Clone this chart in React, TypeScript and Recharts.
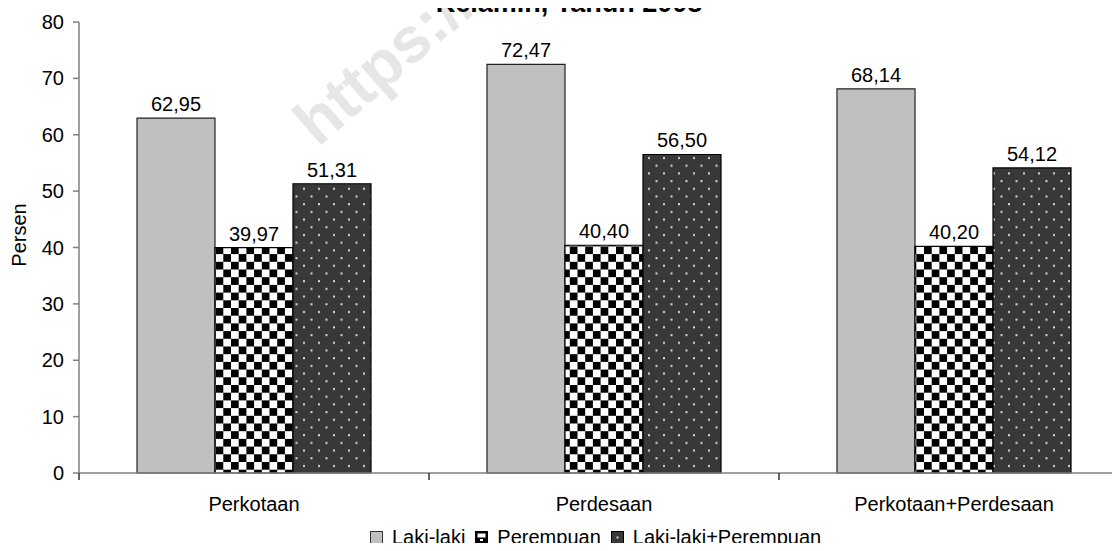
import { Bar, BarChart, LabelList, Legend, XAxis, YAxis } from "recharts";

const categories = ["Perkotaan", "Perdesaan", "Perkotaan+Perdesaan"];
const lakiLaki = [62.95, 72.47, 68.14];
const perempuan = [39.97, 40.4, 40.2];
const gabungan = [51.31, 56.5, 54.12];
const yTicks = [0, 10, 20, 30, 40, 50, 60, 70, 80];

const data = categories.map((name, i) => ({
  name,
  laki: lakiLaki[i],
  perempuan: perempuan[i],
  gabungan: gabungan[i],
}));

const FONT = "Arial, 'Liberation Sans', sans-serif";

const fmt = (v: unknown) => Number(v).toFixed(2).replace(".", ",");

function CategoryTick(props: any) {
  const { x, y, payload } = props;
  const half = payload?.offset ?? 175;
  return (
    <g>
      <line x1={x - half} x2={x - half} y1={y} y2={y + 7} stroke="#333" strokeWidth={1.5} />
      <text x={x} y={y + 38} textAnchor="middle" fontSize={20} fill="#000" fontFamily={FONT}>
        {payload.value}
      </text>
    </g>
  );
}

function LegendIcon({ kind }: { kind: string }) {
  if (kind === "laki") {
    return (
      <svg width={13} height={13}>
        <rect x={0.5} y={0.5} width={12} height={12} fill="#c0c0c0" stroke="#333" />
      </svg>
    );
  }
  if (kind === "perempuan") {
    return (
      <svg width={13} height={13}>
        <rect x={0.5} y={0.5} width={12} height={12} fill="#000" stroke="#000" />
        <rect x={2.5} y={2.5} width={8} height={4} fill="#fff" />
        <rect x={5} y={8} width={3} height={2} fill="#fff" />
      </svg>
    );
  }
  return (
    <svg width={13} height={13}>
      <rect x={0.5} y={0.5} width={12} height={12} fill="#383838" stroke="#000" />
      <rect x={5.5} y={5.5} width={2} height={2} fill="#ddd" />
    </svg>
  );
}

const legendItems = [
  { key: "laki", label: "Laki-laki" },
  { key: "perempuan", label: "Perempuan" },
  { key: "gabungan", label: "Laki-laki+Perempuan" },
];

function LegendContent() {
  return (
    <div
      style={{
        display: "flex",
        alignItems: "center",
        paddingLeft: 370,
        height: 22,
        lineHeight: "22px",
        fontSize: 20,
        fontFamily: FONT,
        color: "#000",
      }}
    >
      {legendItems.map((it) => (
        <div key={it.key} style={{ display: "flex", alignItems: "center", marginRight: 10 }}>
          <LegendIcon kind={it.key} />
          <span style={{ marginLeft: 9 }}>{it.label}</span>
        </div>
      ))}
    </div>
  );
}

export default function App() {
  return (
    <div
      style={{
        position: "relative",
        margin: -8,
        width: 1120,
        height: 551,
        overflow: "hidden",
        background: "#fff",
        fontFamily: FONT,
      }}
    >
      {/* watermark, sits behind the bars */}
      <svg
        width={1120}
        height={551}
        style={{ position: "absolute", left: 0, top: 0, zIndex: 0 }}
      >
        <text
          x={318}
          y={148}
          transform="rotate(-41 318 148)"
          fontSize={64}
          fontWeight="bold"
          fill="#e6e6e6"
          fontFamily={FONT}
        >
          https://www.bps.go.id
        </text>
        <text x={569} y={12} textAnchor="middle" fontSize={27} fontWeight="bold" fill="#000" fontFamily={FONT}>
          Kelamin, Tahun 2008
        </text>
      </svg>
      <div style={{ position: "relative", zIndex: 1 }}>
        <BarChart
          width={1140}
          height={551}
          data={data}
          margin={{ top: 22, right: 11, bottom: 0, left: 0 }}
          barSize={78}
          barGap={0}
        >
          <defs>
            <pattern id="checker" patternUnits="userSpaceOnUse" width={15.4} height={15.4}>
              <rect width={15.4} height={15.4} fill="#fff" />
              <rect x={0} y={0} width={7.7} height={7.7} fill="#000" />
              <rect x={7.7} y={7.7} width={7.7} height={7.7} fill="#000" />
            </pattern>
            <pattern id="dots" patternUnits="userSpaceOnUse" width={15} height={15.4}>
              <rect width={15} height={15.4} fill="#383838" />
              <rect x={3} y={3} width={2} height={2} fill="#d8d8d8" />
              <rect x={10.5} y={10.7} width={2} height={2} fill="#d8d8d8" />
            </pattern>
          </defs>
          <XAxis
            dataKey="name"
            height={56}
            axisLine={{ stroke: "#808080", strokeWidth: 1.5 }}
            tickLine={false}
            tickSize={0}
            tickMargin={0}
            tick={<CategoryTick />}
            interval={0}
          />
          <YAxis
            width={79}
            domain={[0, 80]}
            ticks={yTicks}
            interval={0}
            axisLine={{ stroke: "#808080", strokeWidth: 1.5 }}
            tickLine={{ stroke: "#808080", strokeWidth: 1.5 }}
            tickSize={6}
            tickMargin={9}
            tick={{ fontSize: 20, fill: "#000", fontFamily: FONT }}
            label={() => (
              <text
                x={26}
                y={235}
                transform="rotate(-90 26 235)"
                textAnchor="middle"
                fontSize={20}
                fill="#000"
                fontFamily={FONT}
              >
                Persen
              </text>
            )}
          />
          <Legend
            verticalAlign="bottom"
            align="left"
            height={22}
            wrapperStyle={{ top: 526, left: 0, bottom: "auto" }}
            content={<LegendContent />}
          />
          <Bar dataKey="laki" fill="#c0c0c0" stroke="#222" strokeWidth={1.2} isAnimationActive={false}>
            <LabelList dataKey="laki" position="top" offset={7} formatter={fmt} fontSize={20} fill="#000" fontFamily={FONT} />
          </Bar>
          <Bar dataKey="perempuan" fill="url(#checker)" stroke="#000" strokeWidth={1.2} isAnimationActive={false}>
            <LabelList dataKey="perempuan" position="top" offset={7} formatter={fmt} fontSize={20} fill="#000" fontFamily={FONT} />
          </Bar>
          <Bar dataKey="gabungan" fill="url(#dots)" stroke="#000" strokeWidth={1.2} isAnimationActive={false}>
            <LabelList dataKey="gabungan" position="top" offset={7} formatter={fmt} fontSize={20} fill="#000" fontFamily={FONT} />
          </Bar>
        </BarChart>
      </div>
    </div>
  );
}
